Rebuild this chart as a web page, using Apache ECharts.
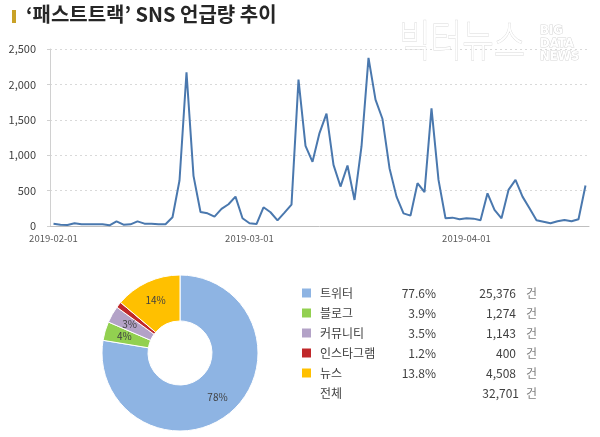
<!DOCTYPE html>
<html>
<head>
<meta charset="utf-8">
<script src="https://cdn.jsdelivr.net/npm/echarts@6/dist/echarts.min.js"></script>
<style>html,body{margin:0;padding:0;background:#fff}#c{width:600px;height:437px}</style>
</head>
<body>
<div id="c"></div>
<script>
var titleText = '‘패스트트랙’ SNS 언급량 추이';
var startDate = '2019-02-01';
var tickLabels = ['2019-02-01', '2019-03-01', '2019-04-01'];
var mentions = [33, 19, 14, 38, 24, 24, 24, 24, 10, 66, 19, 24, 66, 33, 33, 24, 24, 123, 642, 2171,
  708, 198, 179, 132, 241, 307, 415, 109, 38, 28, 264, 194, 80, 189, 302, 2067, 1133, 906, 1312, 1586,
  864, 557, 854, 368, 1123, 2374, 1784, 1511, 817, 415, 179, 146, 604, 477, 1661, 651, 109, 118, 95, 109,
  104, 80, 462, 227, 109, 510, 651, 415, 250, 80, 61, 38, 66, 85, 66, 95, 571];
var channels = ['트위터', '블로그', '커뮤니티', '인스타그램', '뉴스'];
var channelCounts = [25376, 1274, 1143, 400, 4508];
var channelColors = ['#8eb4e3', '#92d050', '#b3a2c7', '#c0282a', '#ffc000'];
var totalLabel = '전체';
var unitLabel = '건';
var yTicks = [0, 500, 1000, 1500, 2000, 2500];

var dates = [];
(function () {
  var d = new Date(startDate + 'T00:00:00Z');
  for (var i = 0; i < mentions.length; i++) {
    var t = new Date(d.getTime() + i * 86400000);
    dates.push(t.toISOString().slice(0, 10));
  }
})();

var total = channelCounts.reduce(function (a, b) { return a + b; }, 0);
var fmt = function (n) { return n.toLocaleString('en-US'); };
var KR = '"Noto Sans CJK KR", "Noto Sans", sans-serif';

var graphics = [
  { type: 'rect', shape: { x: 12, y: 10, width: 4, height: 13 }, style: { fill: '#c9a227' } },
  { type: 'text', left: 26, top: 4, style: { text: titleText, font: 'bold 20px ' + KR, fill: '#262626' } },
  { type: 'text', x: 399, y: 18, scaleX: 0.78, z: 100, style: { text: '빅터뉴스', font: '300 44px ' + KR, fill: '#ffffff', stroke: '#dadada', lineWidth: 1 } },
  { type: 'text', x: 540, y: 24, z: 100, style: { text: 'BIG\nDATA\nNEWS', font: 'bold 13px "Liberation Sans Narrow", "DejaVu Sans Condensed", sans-serif', lineHeight: 13, fill: '#ffffff', stroke: '#d6d6d6', lineWidth: 1 } }
];
var rowY = [293, 313, 333, 353, 373];
for (var i = 0; i < channels.length; i++) {
  graphics.push({ type: 'rect', shape: { x: 302, y: rowY[i] - 4.5, width: 9, height: 9 }, style: { fill: channelColors[i] } });
  graphics.push({ type: 'text', x: 320, y: rowY[i], style: { text: channels[i], font: '12px ' + KR, fill: '#404040', verticalAlign: 'middle' } });
  graphics.push({ type: 'text', x: 436, y: rowY[i], style: { text: (channelCounts[i] / total * 100).toFixed(1) + '%', font: '12px ' + KR, fill: '#404040', align: 'right', verticalAlign: 'middle' } });
  graphics.push({ type: 'text', x: 516, y: rowY[i], style: { text: fmt(channelCounts[i]), font: '12px ' + KR, fill: '#404040', align: 'right', verticalAlign: 'middle' } });
  graphics.push({ type: 'text', x: 526, y: rowY[i], style: { text: unitLabel, font: '12px ' + KR, fill: '#7f7f7f', verticalAlign: 'middle' } });
}
graphics.push({ type: 'text', x: 320, y: 393, style: { text: totalLabel, font: '12px ' + KR, fill: '#404040', verticalAlign: 'middle' } });
graphics.push({ type: 'text', x: 519, y: 393, style: { text: fmt(total), font: '12px ' + KR, fill: '#404040', align: 'right', verticalAlign: 'middle' } });
graphics.push({ type: 'text', x: 526, y: 393, style: { text: unitLabel, font: '12px ' + KR, fill: '#7f7f7f', verticalAlign: 'middle' } });

var chart = echarts.init(document.getElementById('c'), null, { renderer: 'canvas' });
chart.setOption({
  animation: false,
  backgroundColor: '#fff',
  grid: { left: 50, top: 49, width: 539, height: 177 },
  xAxis: {
    type: 'category', data: dates, boundaryGap: true,
    axisLine: { lineStyle: { color: '#bfbfbf' } },
    axisTick: { length: 4, lineStyle: { color: '#bfbfbf' }, interval: function (idx, v) { return tickLabels.indexOf(v) >= 0 && idx > 0; } },
    axisLabel: { interval: function (idx, v) { return tickLabels.indexOf(v) >= 0; }, fontSize: 9.5, color: '#595959', margin: 8, fontFamily: KR }
  },
  yAxis: {
    type: 'value', min: yTicks[0], max: yTicks[yTicks.length - 1], interval: 500,
    axisLine: { show: true, lineStyle: { color: '#d0d0d0' } },
    axisTick: { show: true, length: 3, lineStyle: { color: '#d0d0d0' } },
    axisLabel: { formatter: function (v) { return fmt(v); }, fontSize: 11, color: '#404040', margin: 14, fontFamily: KR },
    splitLine: { lineStyle: { type: [2, 3], color: '#d9d9d9' } }
  },
  series: [
    { type: 'line', data: mentions, symbol: 'none', lineStyle: { color: '#4a78ae', width: 2 }, itemStyle: { color: '#4a78ae' } },
    {
      type: 'pie', center: [180, 353], radius: [32, 78], startAngle: 90, clockwise: true,
      data: channels.map(function (n, i) { return { name: n, value: channelCounts[i], itemStyle: { color: channelColors[i] } }; }),
      itemStyle: { borderColor: '#fff', borderWidth: 1 },
      label: { position: 'inside', fontSize: 10, color: '#404040', fontFamily: KR, formatter: function (p) { return Math.round(p.percent) + '%'; } },
      labelLine: { show: false }
    }
  ],
  graphic: graphics
});
</script>
</body>
</html>
